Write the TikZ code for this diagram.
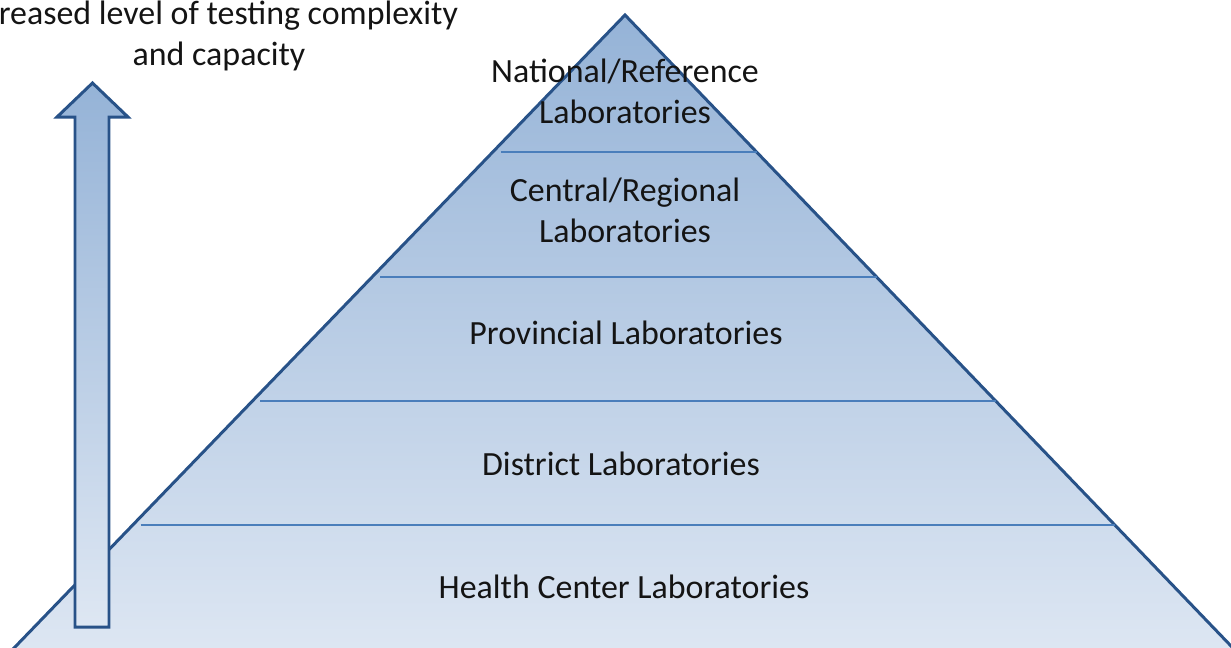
\documentclass[tikz,border=0pt]{standalone}
\usepackage{fontspec}
\setmainfont{Carlito}
\usetikzlibrary{calc}

\definecolor{edgeblue}{RGB}{40,82,136}
\definecolor{tierblue}{RGB}{74,126,187}
\definecolor{filltop}{RGB}{149,179,215}
\definecolor{fillbot}{RGB}{222,231,243}
\definecolor{txt}{RGB}{20,20,20}

\begin{document}
\begin{tikzpicture}[
  x=0.02cm, y=-0.02cm,
  font=\fontsize{19.3}{22.8}\selectfont,
  lbl/.style={text=txt, inner sep=0pt, align=center},
  pyr/.style={draw=edgeblue, line width=1.7pt, line join=miter, top color=filltop, bottom color=fillbot},
  tier/.style={draw=tierblue, line width=1.1pt},
  uparr/.style={draw=edgeblue, line width=1.7pt, line join=miter, top color=filltop, bottom color=fillbot}]
\useasboundingbox (0,0) rectangle (1231,647);
\coordinate (apex) at (625,15);
\coordinate (bl) at (15,647);
\coordinate (br) at (1232,647);
% pyramid, base runs past the lower edge
\draw[pyr] (apex) -- ($(apex)!1.02!(bl)$) -- ($(apex)!1.02!(br)$) -- cycle;
\foreach \t in {0.2168,0.4146,0.6108,0.8070}
  \draw[tier] ($(apex)!\t!(bl)+(8,0)$) -- ($(apex)!\t!(br)$);
% base anchor sits on the last line
\node[lbl, anchor=base] (nat)  at (625,123) {National/Reference\\Laboratories};
\node[lbl, anchor=base] (cen)  at (625,242) {Central/Regional\\Laboratories};
\node[lbl, anchor=base] (prov) at (626,344) {Provincial Laboratories};
\node[lbl, anchor=base] (dist) at (621,475) {District Laboratories};
\node[lbl, anchor=base] (hc)   at (624,598) {Health Center Laboratories};
% arrow on the left
\draw[uparr] (75,627) -- (75,117) -- (57,117) -- (92.5,83) -- (128,117) -- (109,117) -- (109,627) -- cycle;
\node[lbl, anchor=base] (cap) at (219,65) {Increased level of testing complexity\hspace*{0.44cm}\\and capacity};
\end{tikzpicture}
\end{document}
